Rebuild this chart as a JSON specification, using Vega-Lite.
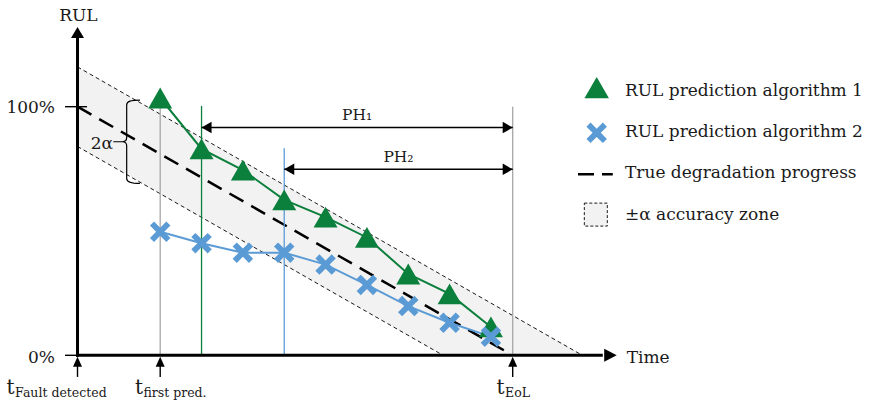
{
  "$schema": "https://vega.github.io/schema/vega-lite/v6.json",
  "width": 874,
  "height": 401,
  "padding": 0,
  "autosize": {"type": "none"},
  "background": "white",
  "config": {"view": {"stroke": null}, "font": "DejaVu Serif", "text": {"font": "DejaVu Serif", "color": "#1a1a1a"}},
  "resolve": {"scale": {"color": "independent", "shape": "independent", "size": "independent"}},
  "datasets": {
    "zone": [
      {"t": 0, "rul": 116, "rul2": 84},
      {"t": 84, "rul": 32, "rul2": 0},
      {"t": 116, "rul": 0, "rul2": 0}
    ],
    "bounds": [
      {"edge": "upper", "t": 0, "rul": 116},
      {"edge": "upper", "t": 116, "rul": 0},
      {"edge": "lower", "t": 0, "rul": 84},
      {"edge": "lower", "t": 84, "rul": 0}
    ],
    "truth": [
      {"t": 0, "rul": 100},
      {"t": 100, "rul": 0}
    ],
    "refs": [
      {"ref": "first", "t": 19, "rul": 0, "rul2": 100},
      {"ref": "ph1", "t": 28.5, "rul": 0, "rul2": 100.3},
      {"ref": "ph2", "t": 47.5, "rul": 0, "rul2": 83.3},
      {"ref": "eol", "t": 100, "rul": 0, "rul2": 100}
    ],
    "horizons": [
      {"ph": "PH₁", "t": 28.5, "t2": 100, "rul": 91.6, "mid": 64.25},
      {"ph": "PH₂", "t": 47.5, "t2": 100, "rul": 74.8, "mid": 73.75}
    ],
    "axes": [
      {"t": 0, "t2": 0, "rul": -0.6, "rul2": 127.6},
      {"t": -0.35, "t2": 120.7, "rul": 0, "rul2": 0}
    ],
    "thin": [
      {"t": -2.87, "t2": 2.18, "rul": 100, "rul2": 100},
      {"t": -2.87, "t2": 0, "rul": 0, "rul2": 0},
      {"t": 0, "t2": 0, "rul": -3, "rul2": -8.7},
      {"t": 19, "t2": 19, "rul": -3, "rul2": -8.7},
      {"t": 100, "t2": 100, "rul": -3, "rul2": -8.7}
    ],
    "heads": [
      {"kind": "axisUp", "t": 0, "rul": 132.1},
      {"kind": "axisRight", "t": 123.9, "rul": 0},
      {"kind": "markUp", "t": 0, "rul": -0.6},
      {"kind": "markUp", "t": 19, "rul": -0.6},
      {"kind": "markUp", "t": 100, "rul": -0.6},
      {"kind": "left", "t": 28.5, "rul": 91.6},
      {"kind": "right", "t": 100, "rul": 91.6},
      {"kind": "left", "t": 47.5, "rul": 74.8},
      {"kind": "right", "t": 100, "rul": 74.8}
    ],
    "predictions": [
      {"alg": "1", "t": 19, "rul": 103.5},
      {"alg": "1", "t": 28.5, "rul": 83.0},
      {"alg": "1", "t": 38, "rul": 74.5},
      {"alg": "1", "t": 47.5, "rul": 62.5},
      {"alg": "1", "t": 57, "rul": 55.6},
      {"alg": "1", "t": 66.5, "rul": 47.4},
      {"alg": "1", "t": 76, "rul": 32.7},
      {"alg": "1", "t": 85.5, "rul": 24.7},
      {"alg": "1", "t": 95, "rul": 11.4},
      {"alg": "2", "t": 19, "rul": 49.7},
      {"alg": "2", "t": 28.5, "rul": 45.1},
      {"alg": "2", "t": 38, "rul": 41.3},
      {"alg": "2", "t": 47.5, "rul": 41.3},
      {"alg": "2", "t": 57, "rul": 36.5},
      {"alg": "2", "t": 66.5, "rul": 28.3},
      {"alg": "2", "t": 76, "rul": 19.8},
      {"alg": "2", "t": 85.5, "rul": 13.1},
      {"alg": "2", "t": 95, "rul": 7.5}
    ],
    "legendMarks": [
      {"alg": "1", "t": 119.3, "rul": 107.7},
      {"alg": "2", "t": 119.3, "rul": 89.5}
    ],
    "legendDash": [
      {"t": 115.0, "rul": 72.8},
      {"t": 123.0, "rul": 72.8}
    ],
    "legendZone": [
      {"t": 119.1, "rul": 56.6}
    ],
    "brace": [
      {"t": 11.3, "rul": 85.9}
    ],
    "textRight": [
      {"label": "100%", "t": -5.17, "rul": 97.3},
      {"label": "0%", "t": -5.17, "rul": -3.2},
      {"label": "2α", "t": 8.16, "rul": 83.0}
    ],
    "textCenter": [
      {"label": "RUL", "t": 0.2, "rul": 134.6}
    ],
    "textLeft": [
      {"label": "Time", "t": 126.2, "rul": -3.2},
      {"label": "RUL prediction algorithm 1", "t": 125.8, "rul": 104.3},
      {"label": "RUL prediction algorithm 2", "t": 125.8, "rul": 87.8},
      {"label": "True degradation progress", "t": 125.8, "rul": 71.4},
      {"label": "±α accuracy zone", "t": 125.8, "rul": 54.4}
    ],
    "timeLabels": [
      {"t": 0, "lx": -16.3, "rul": -15.7, "sub": "Fault detected"},
      {"t": 19, "lx": 13.2, "rul": -15.7, "sub": "first pred."},
      {"t": 100, "lx": 96.3, "rul": -15.7, "sub": "EoL"}
    ]
  },
  "encoding": {
    "x": {"field": "t", "type": "quantitative", "scale": {"domain": [-17.81, 183.02], "nice": false, "zero": false}, "axis": null},
    "y": {"field": "rul", "type": "quantitative", "scale": {"domain": [-18.38, 142.92], "nice": false, "zero": false}, "axis": null}
  },
  "layer": [
    {
      "data": {"name": "zone"},
      "mark": {"type": "area", "fill": "#f2f2f2", "opacity": 1},
      "encoding": {"y2": {"field": "rul2"}}
    },
    {
      "data": {"name": "bounds"},
      "mark": {"type": "line", "color": "#000000", "strokeWidth": 0.9, "strokeDash": [4, 3]},
      "encoding": {"detail": {"field": "edge"}}
    },
    {
      "data": {"name": "truth"},
      "mark": {"type": "line", "color": "#000000", "strokeWidth": 2.5, "strokeDash": [16, 9]},
      "encoding": {}
    },
    {
      "data": {"name": "refs"},
      "mark": {"type": "rule", "strokeWidth": 1.3},
      "encoding": {
        "y2": {"field": "rul2"},
        "color": {"field": "ref", "type": "nominal", "legend": null,
          "scale": {"domain": ["first", "ph1", "ph2", "eol"], "range": ["#a6a6a6", "#0b7f3c", "#5b9bd5", "#a6a6a6"]}}
      }
    },
    {
      "data": {"name": "horizons"},
      "mark": {"type": "rule", "color": "#000000", "strokeWidth": 1.5},
      "encoding": {"x2": {"field": "t2"}}
    },
    {
      "data": {"name": "horizons"},
      "mark": {"type": "text", "baseline": "alphabetic", "align": "center", "dy": -7.6, "fontSize": 15.5},
      "encoding": {"x": {"field": "mid", "type": "quantitative"}, "text": {"field": "ph"}}
    },
    {
      "data": {"name": "axes"},
      "mark": {"type": "rule", "color": "#000000", "strokeWidth": 3},
      "encoding": {"x2": {"field": "t2"}, "y2": {"field": "rul2"}}
    },
    {
      "data": {"name": "thin"},
      "mark": {"type": "rule", "color": "#000000", "strokeWidth": 1.4},
      "encoding": {"x2": {"field": "t2"}, "y2": {"field": "rul2"}}
    },
    {
      "data": {"name": "heads"},
      "mark": {"type": "point", "filled": true, "opacity": 1, "color": "#000000", "size": 100, "strokeWidth": 0},
      "encoding": {
        "shape": {"field": "kind", "type": "nominal", "legend": null,
          "scale": {"domain": ["axisUp", "axisRight", "markUp", "left", "right"],
            "range": ["M0,0L-1.3,2.2L1.3,2.2Z", "M0,0L-2.5,-1.3L-2.5,1.3Z", "M0,0L-0.9,2L0.9,2Z", "M0,0L2,-1.15L2,1.15Z", "M0,0L-2,-1.15L-2,1.15Z"]}}
      }
    },
    {
      "data": {"name": "predictions"},
      "mark": {"type": "line", "strokeWidth": 2},
      "encoding": {
        "color": {"field": "alg", "type": "nominal", "legend": null, "scale": {"domain": ["1", "2"], "range": ["#0b7f3c", "#5b9bd5"]}}
      }
    },
    {
      "data": {"name": "predictions"},
      "mark": {"type": "point", "filled": true, "opacity": 1, "strokeWidth": 0},
      "encoding": {
        "color": {"field": "alg", "type": "nominal", "legend": null, "scale": {"domain": ["1", "2"], "range": ["#0b7f3c", "#5b9bd5"]}},
        "shape": {"field": "alg", "type": "nominal", "legend": null, "scale": {"domain": ["1", "2"], "range": ["triangle-up", "M-1,-0.6L-0.6,-1L0,-0.4L0.6,-1L1,-0.6L0.4,0L1,0.6L0.6,1L0,0.4L-0.6,1L-1,0.6L-0.4,0Z"]}},
        "size": {"field": "alg", "type": "nominal", "legend": null, "scale": {"domain": ["1", "2"], "range": [576, 420]}}
      }
    },
    {
      "data": {"name": "legendMarks"},
      "mark": {"type": "point", "filled": true, "opacity": 1, "strokeWidth": 0},
      "encoding": {
        "color": {"field": "alg", "type": "nominal", "legend": null, "scale": {"domain": ["1", "2"], "range": ["#0b7f3c", "#5b9bd5"]}},
        "shape": {"field": "alg", "type": "nominal", "legend": null, "scale": {"domain": ["1", "2"], "range": ["triangle-up", "M-1,-0.6L-0.6,-1L0,-0.4L0.6,-1L1,-0.6L0.4,0L1,0.6L0.6,1L0,0.4L-0.6,1L-1,0.6L-0.4,0Z"]}},
        "size": {"field": "alg", "type": "nominal", "legend": null, "scale": {"domain": ["1", "2"], "range": [600, 420]}}
      }
    },
    {
      "data": {"name": "legendDash"},
      "mark": {"type": "line", "color": "#000000", "strokeWidth": 2.5, "strokeDash": [16, 8]},
      "encoding": {}
    },
    {
      "data": {"name": "legendZone"},
      "mark": {"type": "point", "shape": "square", "size": 529, "filled": false, "fill": "#f2f2f2", "fillOpacity": 1, "stroke": "#000000", "strokeWidth": 0.9, "strokeDash": [3, 2], "opacity": 1},
      "encoding": {}
    },
    {
      "data": {"name": "brace"},
      "mark": {"type": "point", "shape": "M0.32,-1C0.1,-1 0,-0.97 0,-0.88L0,-0.1C0,-0.03 -0.04,0 -0.1,0C-0.04,0 0,0.03 0,0.1L0,0.88C0,0.97 0.1,1 0.32,1M-0.1,0L-0.32,0", "size": 6956, "filled": false, "stroke": "#000000", "strokeWidth": 1.2, "opacity": 1},
      "encoding": {}
    },
    {
      "data": {"name": "textRight"},
      "mark": {"type": "text", "align": "right", "baseline": "alphabetic", "fontSize": 17},
      "encoding": {"text": {"field": "label"}}
    },
    {
      "data": {"name": "textCenter"},
      "mark": {"type": "text", "align": "center", "baseline": "alphabetic", "fontSize": 17},
      "encoding": {"text": {"field": "label"}}
    },
    {
      "data": {"name": "textLeft"},
      "mark": {"type": "text", "align": "left", "baseline": "alphabetic", "fontSize": 17},
      "encoding": {"text": {"field": "label"}}
    },
    {
      "data": {"name": "timeLabels"},
      "mark": {"type": "text", "align": "left", "baseline": "alphabetic", "fontSize": 20},
      "encoding": {"x": {"field": "lx", "type": "quantitative"}, "text": {"value": "t"}}
    },
    {
      "data": {"name": "timeLabels"},
      "mark": {"type": "text", "align": "left", "baseline": "alphabetic", "fontSize": 12.5, "dx": 8.5, "dy": 2.5},
      "encoding": {"x": {"field": "lx", "type": "quantitative"}, "text": {"field": "sub"}}
    }
  ]
}
